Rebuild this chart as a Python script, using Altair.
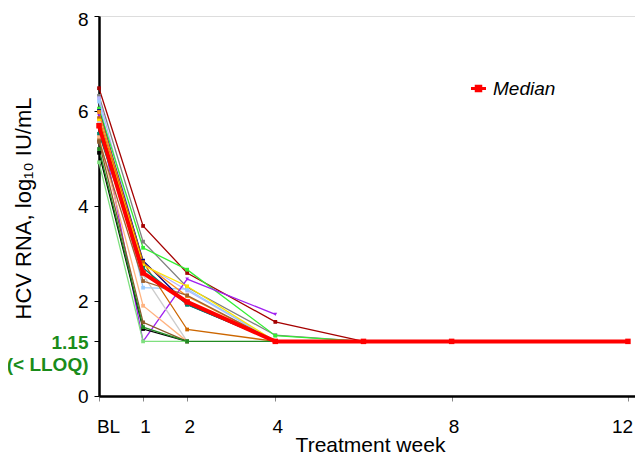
import altair as alt
import pandas as pd

# ---------------- data ----------------
weeks = [0, 1, 2, 4, 6]

patient_ids = ["P01", "P02", "P03", "P04", "P05", "P06", "P07", "P08", "P09", "P10",
               "P11", "P12", "P13", "P14", "P15", "P16", "P17", "P18"]
patient_colors = ["#A50000", "#808080", "#B4B4FF", "#99CCFF", "#33EE33", "#000080",
                  "#FF8C1A", "#A020F0", "#CC6600", "#FFE600", "#CCCCCC", "#00806A",
                  "#FFB380", "#A0622D", "#8B5A2B", "#000000", "#7FE07F", "#228B22"]
patient_shapes = ["square"] * 7 + ["triangle-down"] + ["square"] * 10
patient_values = [
    [6.48, 3.58, 2.59, 1.56, 1.15],
    [6.32, 3.25, 2.29, 1.28, 1.15],
    [6.27, 2.78, 2.22, 1.15, None],
    [6.20, 2.28, 2.25, 1.15, None],
    [6.05, 3.12, 2.66, 1.27, 1.15],
    [6.00, 2.85, 1.93, 1.15, None],
    [5.98, 2.80, 2.10, 1.15, None],
    [5.90, 1.15, 2.46, 1.72, None],
    [5.85, 2.82, 1.40, 1.15, None],
    [5.80, 2.75, 2.31, 1.15, None],
    [5.75, 2.55, 1.15, None, None],
    [5.52, 2.70, 1.92, 1.15, None],
    [5.45, 1.90, 1.15, None, None],
    [5.38, 2.42, 2.12, 1.15, None],
    [5.35, 1.55, 1.15, None, None],
    [5.12, 1.41, 1.15, None, None],
    [4.92, 1.15, 1.15, None, None],
    [5.20, 1.45, 1.15, 1.15, None],
]

median_weeks = [0, 1, 2, 4, 6, 8, 12]
median_values = [5.69, 2.59, 1.98, 1.15, 1.15, 1.15, 1.15]

x_ticks = [0, 1, 2, 4, 8, 12]
y_ticks = [0, 1.15, 2, 4, 6, 8]

# ---------------- tables ----------------
rows = []
for i, pid in enumerate(patient_ids):
    for w, v in zip(weeks, patient_values[i]):
        if v is not None:
            rows.append({"pid": pid, "week": w, "value": v,
                         "color": patient_colors[i], "shape": patient_shapes[i], "ord": i})
pat = pd.DataFrame(rows)
med = pd.DataFrame({"week": median_weeks, "value": median_values, "series": "Median"})

FONT = "Liberation Sans"

x_enc = alt.X("week:Q",
              scale=alt.Scale(domain=[0, 12.16], nice=False, zero=False),
              axis=alt.Axis(values=x_ticks,
                            labelExpr="datum.value == 0 ? 'BL' : format(datum.value, 'd')",
                            title="Treatment week", grid=False, labelFlush=False,
                            labelFontSize=19, labelFont=FONT, labelColor="black",
                            labelBaseline="top", labelPadding=16,
                            labelOffset={"condition": [
                                {"test": "datum.value == 0", "value": 9},
                                {"test": "datum.value == 12", "value": -6}], "value": 2},
                            tickColor="#888888", tickSize=5, tickWidth=1,
                            domainColor="black", domainWidth=2.5,
                            titleFontSize=21, titleFont=FONT, titleFontWeight="normal",
                            titleColor="black", titleX=271, titleY=49,
                            titleBaseline="middle", titleAlign="center"))

y_enc = alt.Y("value:Q",
              scale=alt.Scale(domain=[0, 8], nice=False),
              axis=alt.Axis(values=y_ticks,
                            labelExpr="datum.value == 1.15 ? ['1.15', '(< LLOQ)'] : format(datum.value, 'd')",
                            title="HCV RNA, log\u2081\u2080 IU/mL", grid=False,
                            labelFontSize=19, labelFont=FONT,
                            labelColor={"condition": {"test": "datum.value == 1.15", "value": "#1A8C1A"}, "value": "black"},
                            labelFontWeight={"condition": {"test": "datum.value == 1.15", "value": "bold"}, "value": "normal"},
                            labelLineHeight=22,
                            labelOffset={"condition": [
                                {"test": "datum.value == 1.15", "value": 1},
                                {"test": "datum.value == 8", "value": 3}], "value": 0},
                            labelPadding=6,
                            tickColor="black", tickSize=5, tickWidth=1,
                            domainColor="black", domainWidth=2.5,
                            titleFontSize=22, titleFont=FONT, titleFontWeight="normal",
                            titleColor="black", titleX=-76, titleY=192, titleAngle=-90,
                            titleBaseline="middle", titleAlign="center"))

pat_lines = alt.Chart(pat).mark_line(strokeWidth=1.3).encode(
    x=x_enc, y=y_enc,
    detail="pid:N",
    color=alt.Color("color:N", scale=None),
    order="week:Q",
)

pat_points = alt.Chart(pat).mark_point(filled=True, size=14, opacity=1).encode(
    x="week:Q", y="value:Q",
    color=alt.Color("color:N", scale=None),
    shape=alt.Shape("shape:N", scale=None),
)

med_line = alt.Chart(med).mark_line(strokeWidth=4).encode(
    x="week:Q", y="value:Q",
    color=alt.Color("series:N",
                    scale=alt.Scale(domain=["Median"], range=["#FF0000"]),
                    legend=alt.Legend(title=None, orient="none", legendX=370, legendY=63,
                                      symbolType="M-1,0H1M-0.3,-0.3H0.3V0.3H-0.3Z",
                                      symbolSize=225, symbolStrokeWidth=3,
                                      symbolFillColor="#FF0000", symbolStrokeColor="#FF0000",
                                      labelFontSize=19, labelFontStyle="italic",
                                      labelFont=FONT, labelColor="black",
                                      labelOffset=5, padding=0)),
)

med_points = alt.Chart(med).mark_square(size=30, opacity=1, color="#FF0000").encode(
    x="week:Q", y="value:Q",
)

chart = alt.layer(pat_lines, pat_points, med_line, med_points).resolve_scale(
    color="independent", shape="independent"
).properties(
    width=536, height=380,
    autosize=alt.AutoSizeParams(type="none"),
    padding={"left": 91, "top": 8, "right": 0, "bottom": 59},
).configure_view(stroke=None).configure(background="white")

chart.save("out.html", embed_options={"renderer": "svg", "actions": False})
